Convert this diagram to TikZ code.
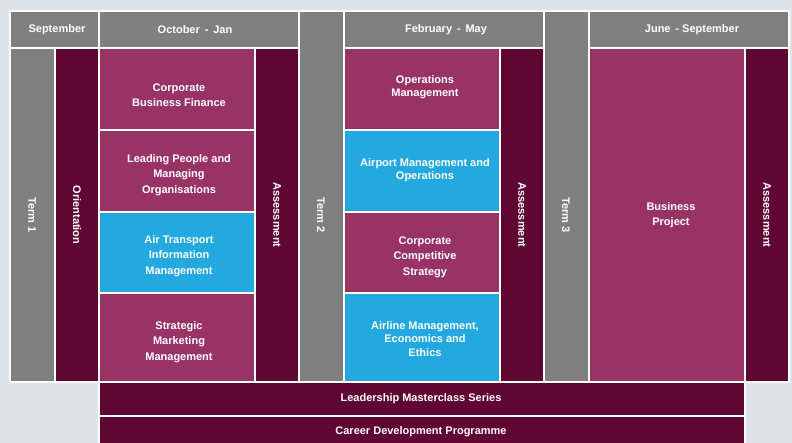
\documentclass[tikz,border=0pt]{standalone}
\usepackage{fontspec}
\setmainfont{Liberation Sans}
\definecolor{bgblue}{HTML}{DEE3EA}
\definecolor{termgray}{HTML}{808080}
\definecolor{maroon}{HTML}{600633}
\definecolor{plum}{HTML}{993366}
\definecolor{skyblue}{HTML}{23A8E0}
\tikzset{
  cell/.style={draw=white, line width=1.6pt},
  lbl/.style={text=white, inner sep=0pt, align=center, font=\fontsize{11}{15.5}\selectfont\bfseries},
  lbltight/.style={lbl, font=\fontsize{11}{13.5}\selectfont\bfseries},
  vlbl/.style={lbl, rotate=-90},
}

\begin{document}
\begin{tikzpicture}[x=1pt,y=-1pt]
        \fill[bgblue] (0,0) rectangle (792,443);
        \clip (0,0) rectangle (792,443);
        % headers and term columns
        \draw[cell, fill=termgray] (10,11) rectangle (99,48);
        \draw[cell, fill=termgray] (99,11) rectangle (299,48);
        \draw[cell, fill=termgray] (299,11) rectangle (344,382);
        \draw[cell, fill=termgray] (344,11) rectangle (544,48);
        \draw[cell, fill=termgray] (544,11) rectangle (589,382);
        \draw[cell, fill=termgray] (589,11) rectangle (789,48);
        \draw[cell, fill=termgray] (10,48) rectangle (55,382);
        \draw[cell, fill=maroon] (55,48) rectangle (99,382);
        % first block
        \draw[cell, fill=plum] (99,48) rectangle (255,130);
        \draw[cell, fill=plum] (99,130) rectangle (255,212);
        \draw[cell, fill=skyblue] (99,212) rectangle (255,293);
        \draw[cell, fill=plum] (99,293) rectangle (255,382);
        \draw[cell, fill=maroon] (255,48) rectangle (299,382);
        % second block
        \draw[cell, fill=plum] (344,48) rectangle (500,130);
        \draw[cell, fill=skyblue] (344,130) rectangle (500,212);
        \draw[cell, fill=plum] (344,212) rectangle (500,293);
        \draw[cell, fill=skyblue] (344,293) rectangle (500,382);
        \draw[cell, fill=maroon] (500,48) rectangle (544,382);
        % third block
        \draw[cell, fill=plum] (589,48) rectangle (745,382);
        \draw[cell, fill=maroon] (745,48) rectangle (789,382);
        % bottom bars
        \draw[cell, fill=maroon] (99,382) rectangle (745,416);
        \draw[cell, fill=maroon] (99,416) rectangle (745,452);
        % header texts
        \node[lbl] (hsep) at (57,30) {September};
        \node[lbl] (hoct) at (195,30) {October \,-\, Jan};
        \node[lbl] (hfeb) at (446,30) {February \,-\, May};
        \node[lbl] (hjun) at (692,30) {June \,- September};
        % vertical texts
        \node[vlbl] (term1) at (32,215) {Term 1};
        \node[vlbl] (orient) at (77,215) {Orientation};
        \node[vlbl] (assess1) at (277,215) {Assessment};
        \node[vlbl] (term2) at (321,215) {Term 2};
        \node[vlbl] (assess2) at (522,215) {Assessment};
        \node[vlbl] (term3) at (566,215) {Term 3};
        \node[vlbl] (assess3) at (767,215) {Assessment};
        % module texts
        \node[lbl] (cbf) at (179,95) {Corporate\\Business Finance};
        \node[lbl] (lpmo) at (179,175) {Leading People and\\Managing\\Organisations};
        \node[lbl] (atim) at (179,256) {Air Transport\\Information\\Management};
        \node[lbl] (smm) at (179,342) {Strategic\\Marketing\\Management};
        \node[lbltight] (opm) at (425,87) {Operations\\Management};
        \node[lbltight] (amo) at (425,170) {Airport Management and\\Operations};
        \node[lbl] (ccs) at (425,257) {Corporate\\Competitive\\Strategy};
        \node[lbltight] (amee) at (425,339) {Airline Management,\\Economics and\\Ethics};
        \node[lbl] (bp) at (671,215) {Business\\Project};
        % bottom texts
        \node[lbl] (lms) at (421,399) {Leadership Masterclass Series};
        \node[lbl] (cdp) at (421,432) {Career Development Programme};
    \end{tikzpicture}
\end{document}
